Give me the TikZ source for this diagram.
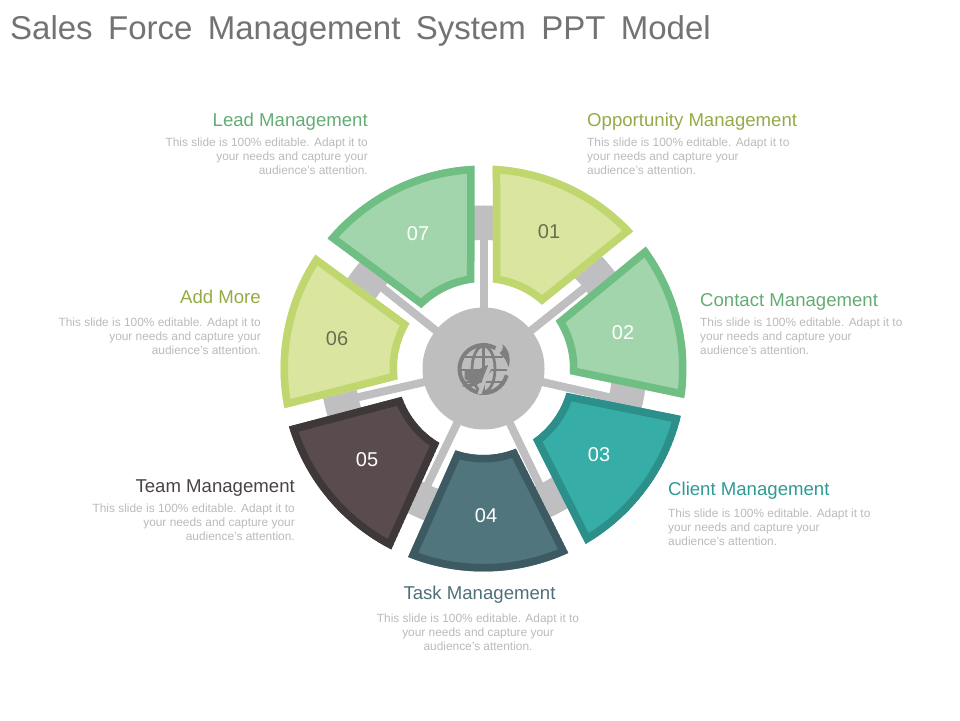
\documentclass[tikz,border=0pt]{standalone}
\usepackage{fontspec}
\setmainfont{Liberation Sans}
\definecolor{ringgray}{HTML}{BFBFC1}
\definecolor{hubgray}{HTML}{BEBEBE}
\definecolor{globegray}{HTML}{7F7F7F}
\definecolor{titlegray}{HTML}{737373}
\definecolor{bodygray}{HTML}{BABABA}
\definecolor{limeF}{HTML}{DAE6A0}
\definecolor{limeS}{HTML}{C0D76F}
\definecolor{greenF}{HTML}{A2D5AB}
\definecolor{greenS}{HTML}{6FBE83}
\definecolor{tealF}{HTML}{36ADA6}
\definecolor{tealS}{HTML}{2D8F8A}
\definecolor{slateF}{HTML}{50757D}
\definecolor{slateS}{HTML}{3D5A62}
\definecolor{brownF}{HTML}{5A4C4E}
\definecolor{brownS}{HTML}{3E3839}
\definecolor{headOlive}{HTML}{93AB45}
\definecolor{headGreen}{HTML}{63AC73}
\definecolor{headTeal}{HTML}{2F9A94}
\definecolor{headSlate}{HTML}{4F6F78}
\definecolor{headBrown}{HTML}{4A4344}
\definecolor{numDark}{HTML}{6B6E50}
\newcommand{\titlefont}{\fontsize{33}{36}\selectfont\spaceskip 15.4pt\relax}
\tikzset{
  x=1pt,y=1pt,
  spoke/.style={draw=ringgray,line width=8pt},
  numlabel/.style={font=\fontsize{20}{20}\selectfont,inner sep=0pt,text=white},
  headr/.style={font=\fontsize{18.6}{20}\selectfont,inner sep=0pt,anchor=base east},
  headl/.style={font=\fontsize{18.6}{20}\selectfont,inner sep=0pt,anchor=base west},
  headc/.style={font=\fontsize{18.6}{20}\selectfont,inner sep=0pt,anchor=base},
  bodyr/.style={font=\fontsize{11.9}{14}\selectfont,inner sep=0pt,text=bodygray,align=right,anchor=north east},
  bodyl/.style={font=\fontsize{11.9}{14}\selectfont,inner sep=0pt,text=bodygray,align=left,anchor=north west},
  bodyc/.style={font=\fontsize{11.9}{14}\selectfont,inner sep=0pt,text=bodygray,align=center,anchor=north},
}
% outer start, outer end, inner end, inner start (angles), fill, stroke
\newcommand{\segm}[6]{%
  \begin{scope}
    \clip (#1:203) arc[start angle=#1,end angle=#2,radius=203] -- (#3:86.5) arc[start angle=#3,end angle=#4,radius=86.5] -- cycle;
    \fill[#5] (#1:203) arc[start angle=#1,end angle=#2,radius=203] -- (#3:86.5) arc[start angle=#3,end angle=#4,radius=86.5] -- cycle;
    \draw[#6,line width=15pt] (#1:203) arc[start angle=#1,end angle=#2,radius=203] -- (#3:86.5) arc[start angle=#3,end angle=#4,radius=86.5] -- cycle;
  \end{scope}}
\newcommand{\bodytxt}{This slide is 100\% editable. Adapt it to\\your needs and capture your\\audience’s attention.}
\begin{document}
\begin{tikzpicture}
\useasboundingbox (0,0) rectangle (960,720);
% title
\node[font=\titlefont,text=titlegray,inner sep=0pt,anchor=base west] (title) at (10,680) {Sales Force Management System PPT Model};
\begin{scope}[shift={(483.5,351.5)}]
  % ring tabs and spokes
  \draw[ringgray,line width=34.5pt] (0,0) circle[radius=145.75];
  \foreach \a in {90,38.6,-12.9,-64.3,-115.7,192.9,141.4}
    \draw[spoke] (0,0) -- (\a:130);
  \fill[hubgray] (0,0) circle[radius=61];
  % segments
  \segm{87.4}{42.5}{47.5}{83.7}{limeF}{limeS}
  \segm{36.9}{-8.4}{-3.7}{33.4}{greenF}{greenS}
  \segm{-13.5}{-59.8}{-55.1}{-16.3}{tealF}{tealS}
  \segm{-65.3}{-111.8}{-108.9}{-68}{slateF}{slateS}
  \segm{-117}{-163.4}{-160.9}{-120.7}{brownF}{brownS}
  \segm{191.3}{145.9}{148.7}{187.2}{limeF}{limeS}
  \segm{140.2}{92.5}{96}{135.8}{greenF}{greenS}
  % globe
  \begin{scope}[globegray,shift={(0,-0.5)}]
    \draw[line width=4pt] (60:24) arc[start angle=60,end angle=345,radius=24];
    \draw[line width=2.8pt] (0,-23) arc[start angle=-90,end angle=270,x radius=11.5,y radius=23];
    \draw[line width=2.6pt] (0,24) -- (0,-24);
    \draw[line width=2.6pt] (-19,12) -- (19,12);
    \draw[line width=2.6pt] (-23,-1) -- (23,-1);
    \draw[line width=2.6pt] (-19,-13) -- (19,-13);
    \fill (-19,-2) -- (-6,-1) -- (4,4) -- (8,-2) -- (-1,-12) -- (-8,-15) -- (-19,-10) -- cycle;
    \fill[hubgray] (10,6) -- (4,-8) -- (-2,-25) -- (-6,-25) -- (0,-8) -- (6,7) -- cycle;
    \fill (-22,-17) .. controls (-12,-20) and (-6,-16) .. (-1,-12) .. controls (-6,-13) and (-14,-14) .. (-22,-17) -- cycle;
    \fill (19,25) .. controls (27,18) and (27,8) .. (25,2) .. controls (23,8) and (21,12) .. (16,16) .. controls (19,18) and (20,21) .. (19,25) -- cycle;
  \end{scope}
  % numbers
  \node[numlabel,text=numDark] (n1) at (65.5,136.5) {01};
  \node[numlabel] (n2) at (139.5,35.5) {02};
  \node[numlabel] (n3) at (115.5,-86.5) {03};
  \node[numlabel] (n4) at (2.5,-147.5) {04};
  \node[numlabel] (n5) at (-116.5,-91.5) {05};
  \node[numlabel,text=numDark] (n6) at (-146.5,29.5) {06};
  \node[numlabel] (n7) at (-65.5,134.5) {07};
\end{scope}
% labels
\node[headl,text=headOlive] (h1) at (587,593) {Opportunity Management};
\node[bodyl] (b1) at (587,582.5) {\bodytxt};
\node[headl,text=headGreen] (h2) at (700,413) {Contact Management};
\node[bodyl] (b2) at (700,402.5) {\bodytxt};
\node[headl,text=headTeal] (h3) at (668,224) {Client Management};
\node[bodyl] (b3) at (668,211) {\bodytxt};
\node[headc,text=headSlate] (h4) at (479.5,121) {Task Management};
\node[bodyc] (b4) at (478,106) {\bodytxt};
\node[headr,text=headBrown] (h5) at (295,227) {Team Management};
\node[bodyr] (b5) at (295,216.5) {\bodytxt};
\node[headr,text=headOlive] (h6) at (261,416) {Add More};
\node[bodyr] (b6) at (261,402.5) {\bodytxt};
\node[headr,text=headGreen] (h7) at (368,593) {Lead Management};
\node[bodyr] (b7) at (368,582.5) {\bodytxt};
\end{tikzpicture}
\end{document}
